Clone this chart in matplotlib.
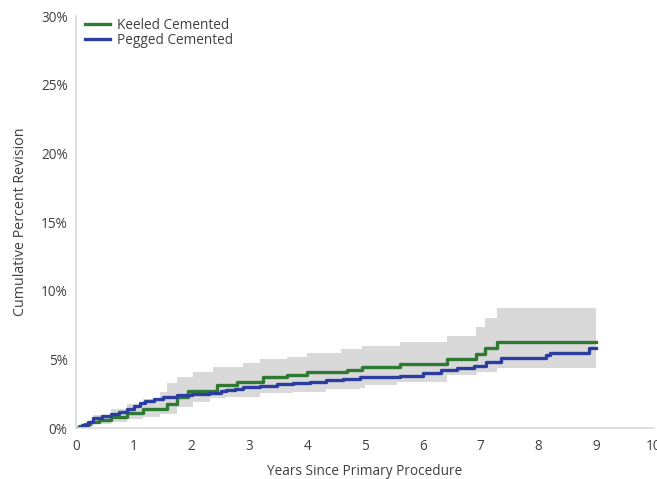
import matplotlib.pyplot as plt
from matplotlib.ticker import FuncFormatter

# Keeled Cemented (step points: years, cumulative % revision)
keeled_t = [0, 0.05, 0.15, 0.25, 0.4, 0.6, 0.88, 1.16, 1.57, 1.75, 1.94, 2.44, 2.79,
            3.24, 3.65, 4.0, 4.69, 4.95, 5.61, 6.42, 6.92, 7.08, 7.29, 9.0]
keeled_v = [0, 0.15, 0.3, 0.45, 0.6, 0.82, 1.07, 1.38, 1.75, 2.28, 2.72, 3.1, 3.37,
            3.69, 3.86, 4.05, 4.2, 4.42, 4.66, 5.0, 5.39, 5.8, 6.28, 6.28]

# Pegged Cemented
pegged_t = [0, 0.1, 0.2, 0.3, 0.45, 0.6, 0.75, 0.88, 1.0, 1.1, 1.2, 1.35, 1.5, 1.75,
            2.0, 2.3, 2.5, 2.6, 2.75, 2.89, 3.18, 3.47, 3.76, 4.05, 4.33, 4.62, 4.91,
            5.15, 5.6, 6.0, 6.31, 6.6, 6.88, 7.1, 7.35, 8.13, 8.2, 8.87, 9.0]
pegged_v = [0, 0.2, 0.45, 0.7, 0.88, 1.02, 1.2, 1.36, 1.6, 1.8, 1.95, 2.1, 2.23, 2.4,
            2.47, 2.57, 2.7, 2.77, 2.86, 2.96, 3.08, 3.18, 3.3, 3.37, 3.5, 3.6, 3.69,
            3.72, 3.8, 4.03, 4.22, 4.35, 4.5, 4.8, 5.07, 5.31, 5.44, 5.8, 5.8]

# confidence band (upper / lower)
upper_t = [0, 0.1, 0.3, 0.6, 0.88, 1.16, 1.45, 1.57, 1.75, 2.02, 2.37, 2.89, 3.18, 3.65,
           4.0, 4.58, 4.95, 5.61, 6.42, 6.92, 7.08, 7.29, 9.0]
upper_v = [0, 0.4, 0.95, 1.36, 1.75, 2.09, 2.65, 3.25, 3.74, 4.1, 4.46, 4.75, 5.0, 5.19,
           5.48, 5.73, 5.97, 6.28, 6.7, 7.38, 7.99, 8.71, 8.71]
lower_t = [0, 0.3, 0.6, 0.88, 1.16, 1.45, 1.75, 2.02, 2.31, 2.6, 3.18, 3.76, 4.33, 4.91,
           5.0, 5.56, 6.42, 6.94, 7.29, 9.0]
lower_v = [0, 0.29, 0.46, 0.63, 0.82, 1.02, 1.55, 1.92, 2.16, 2.28, 2.53, 2.65, 2.84, 2.89,
           3.13, 3.37, 3.86, 4.1, 4.35, 4.35]

plt.rcParams['font.family'] = ['Open Sans', 'DejaVu Sans']
txt = '#404040'
fs = 9.8

fig = plt.figure(figsize=(6.57, 4.79), dpi=100)
ax = fig.add_axes([76/657, 1-428/479, (654-76)/657, (428-16)/479])

# band: combine both edges on a common time grid
grid = sorted(set(upper_t) | set(lower_t))
def step_at(ts, vs, t):
    v = vs[0]
    for ti, vi in zip(ts, vs):
        if ti <= t:
            v = vi
    return v
up = [step_at(upper_t, upper_v, t) for t in grid]
lo = [step_at(lower_t, lower_v, t) for t in grid]
ax.fill_between(grid, lo, up, step='post', color='#d9d9d9', lw=0)

ax.plot(keeled_t, keeled_v, drawstyle='steps-post', color='#2e7a33', lw=2.4, label='Keeled Cemented')
ax.plot(pegged_t, pegged_v, drawstyle='steps-post', color='#2b3da0', lw=2.4, label='Pegged Cemented')

ax.set_xlim(0, 10)
ax.set_ylim(0, 30)
ax.set_xticks(range(0, 11))
ax.set_yticks(range(0, 31, 5))
ax.yaxis.set_major_formatter(FuncFormatter(lambda v, p: f'{int(v)}%'))
ax.tick_params(length=0, labelsize=fs, labelcolor=txt)
ax.tick_params(axis='x', pad=8)
ax.tick_params(axis='y', pad=6)
for s in ['top', 'right']:
    ax.spines[s].set_visible(False)
for s in ['left', 'bottom']:
    ax.spines[s].set_color('#d9d9d9')
    ax.spines[s].set_linewidth(1.2)

ax.set_xlabel('Years Since Primary Procedure', fontsize=fs, color=txt, labelpad=7)
ax.set_ylabel('Cumulative Percent Revision', fontsize=10.3, color=txt, labelpad=9)

ax.legend(loc='upper left', bbox_to_anchor=(-0.005, 1.025), frameon=False, fontsize=fs,
          handlelength=1.8, handletextpad=0.5, labelspacing=0.0, labelcolor=txt)

fig.savefig('out.png', dpi=100)
